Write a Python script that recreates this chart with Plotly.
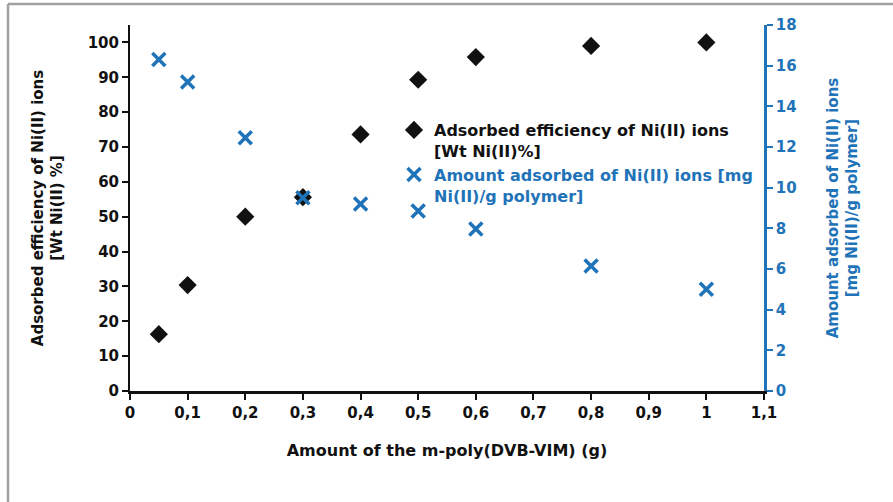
import plotly.graph_objects as go

# Adsorption of Ni(II) vs. amount of m-poly(DVB-VIM)
polymer_g = [0.05, 0.1, 0.2, 0.3, 0.4, 0.5, 0.6, 0.8, 1.0]
efficiency_pct = [16.3, 30.4, 50.0, 55.6, 73.6, 89.3, 95.8, 99.0, 100.0]
amount_mg_g = [16.3, 15.2, 12.45, 9.5, 9.2, 8.85, 7.97, 6.15, 5.0]

x_ticks = [round(i * 0.1, 1) for i in range(12)]
left_ticks = list(range(0, 101, 10))
right_ticks = list(range(0, 19, 2))

BLUE = "#1f73b8"
BLACK = "#111111"
FONT = "DejaVu Sans, sans-serif"

fig = go.Figure()

fig.add_trace(go.Scatter(
    x=polymer_g, y=efficiency_pct, mode="markers",
    name="Adsorbed efficiency of Ni(II) ions<br>[Wt Ni(II)%]",
    marker=dict(symbol="diamond", size=14, color=BLACK),
    yaxis="y",
))
fig.add_trace(go.Scatter(
    x=polymer_g, y=amount_mg_g, mode="markers",
    name="<span style='color:%s'>Amount adsorbed of Ni(II) ions [mg<br>Ni(II)/g polymer]</span>" % BLUE,
    marker=dict(symbol="x-thin", size=13, color=BLUE,
                line=dict(width=3.5, color=BLUE)),
    yaxis="y2",
))

fig.update_layout(
    width=893, height=502,
    margin=dict(l=130, r=129, t=25, b=111),
    paper_bgcolor="white", plot_bgcolor="white",
    separators=",.",
    font=dict(family=FONT, size=15, color=BLACK),
    showlegend=True,
    legend=dict(
        x=(394 - 130) / 634, y=(391 - 113) / 366,
        xanchor="left", yanchor="top", valign="top",
        bgcolor="rgba(0,0,0,0)",
        font=dict(family=FONT, size=16, color=BLACK, weight="bold"),
        itemwidth=30, tracegroupgap=3,
    ),
    xaxis=dict(
        range=[0, 1.1], tickvals=x_ticks, tickformat=".1~f",
        showline=True, linecolor=BLACK, linewidth=2.5,
        ticks="outside", ticklen=6, tickwidth=2, tickcolor=BLACK,
        showgrid=False, zeroline=False,
        tickfont=dict(family=FONT, size=15, color=BLACK, weight="bold"),
        title=dict(text="Amount of the m-poly(DVB-VIM) (g)",
                   font=dict(family=FONT, size=16, color=BLACK, weight="bold"),
                   standoff=25),
    ),
    yaxis=dict(
        range=[0, 105], tickvals=left_ticks,
        showline=True, linecolor=BLACK, linewidth=2,
        ticks="outside", ticklen=6, tickwidth=2, tickcolor=BLACK,
        showgrid=False, zeroline=False,
        tickfont=dict(family=FONT, size=15, color=BLACK, weight="bold"),
        title=dict(text="Adsorbed efficiency of Ni(II) ions<br>[Wt Ni(II) %]",
                   font=dict(family=FONT, size=15, color=BLACK, weight="bold"),
                   standoff=21),
    ),
    yaxis2=dict(
        range=[0, 18], tickvals=right_ticks, overlaying="y", side="right",
        showline=True, linecolor=BLUE, linewidth=2.5,
        ticks="outside", ticklen=6, tickwidth=2, tickcolor=BLUE,
        showgrid=False, zeroline=False,
        tickfont=dict(family=FONT, size=15, color=BLUE, weight="bold"),
        title=dict(text="Amount adsorbed of Ni(II) ions<br>[mg Ni(II)/g polymer]",
                   font=dict(family=FONT, size=15, color=BLUE, weight="bold"),
                   standoff=32),
    ),
    shapes=[
        dict(type="line", xref="paper", yref="paper",
             x0=(8 - 130) / 634, x1=(8 - 130) / 634,
             y0=(391 - 4) / 366, y1=(391 - 510) / 366,
             line=dict(color="#a0a0a0", width=2.5)),
        dict(type="line", xref="paper", yref="paper",
             x0=(8 - 130) / 634, x1=(900 - 130) / 634,
             y0=(391 - 4) / 366, y1=(391 - 4) / 366,
             line=dict(color="#a0a0a0", width=2.5)),
    ],
)

fig.write_html("out.html")
